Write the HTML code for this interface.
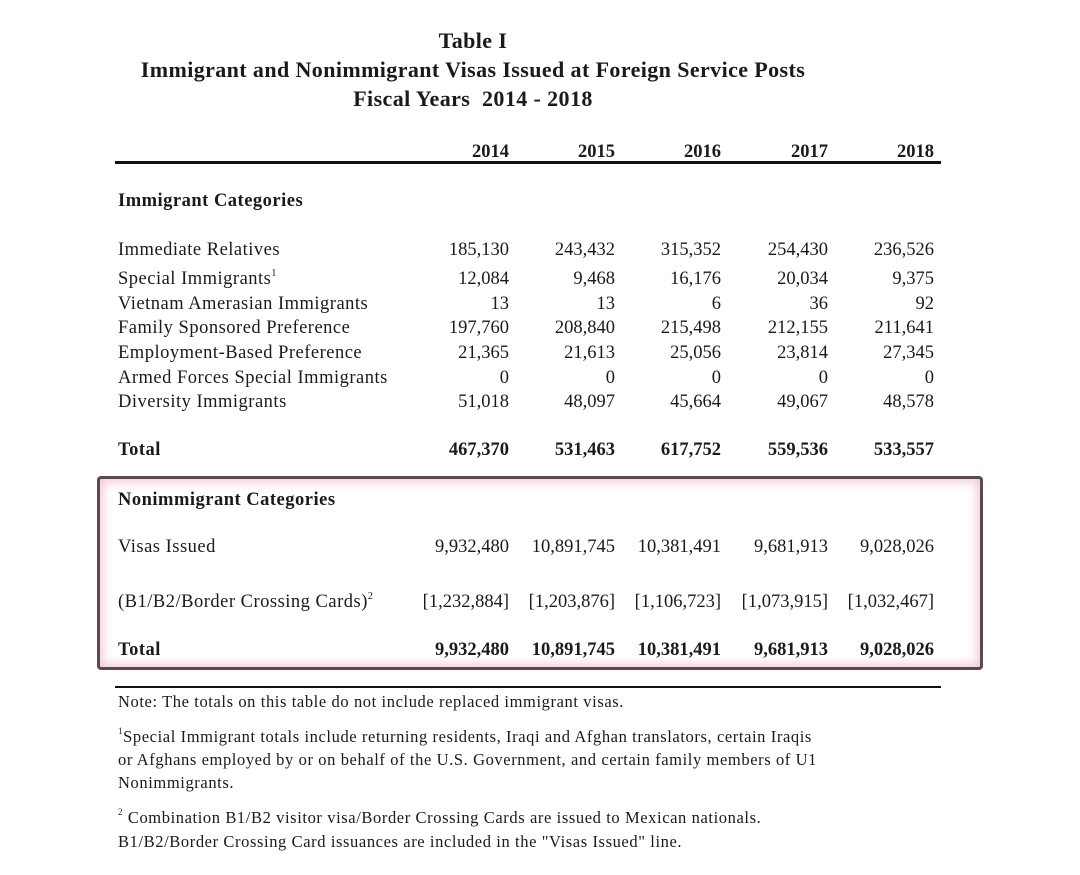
<!DOCTYPE html>
<html><head><style>
body{margin:0;width:1080px;height:875px;background:#fff;position:relative;overflow:hidden;font-family:"Liberation Serif",serif;color:#1a1a1a}
.t{position:absolute;white-space:nowrap;line-height:20px;font-size:18.5px}
.l{letter-spacing:0.5px}
.b{font-weight:bold}
.r{text-align:right;width:160px}
.c{text-align:center;width:800px;left:73px;font-weight:bold;font-size:22px;letter-spacing:0.4px}
.n{font-size:16.5px;letter-spacing:0.6px}
sup{line-height:0;font-size:10px;vertical-align:8px}
</style></head><body>
<div class="t c" style="top:31px">Table I</div>
<div class="t c" style="top:60px">Immigrant and Nonimmigrant Visas Issued at Foreign Service Posts</div>
<div class="t c" style="top:89px">Fiscal Years&nbsp; 2014 - 2018</div>
<div style="position:absolute;left:115px;top:161px;width:826px;height:3px;background:#111"></div>
<div style="position:absolute;left:97px;top:476px;width:880px;height:188px;border:3px solid #5a4a52;border-radius:4px;box-shadow:inset 0 0 10px 3px #f3c8dc"></div>
<div style="position:absolute;left:115px;top:686px;width:826px;height:2px;background:#111"></div>
<div id="g"></div>
<script>
const cols=[509,615,721,828,934];
let h='';
function row(y,label,vals,bold,sup){
 if(label)h+=`<div class="t l${bold?' b':''}" style="left:118px;top:${y-10}px">${label}${sup?'<sup>'+sup+'</sup>':''}</div>`;
 if(vals)vals.forEach((v,i)=>{h+=`<div class="t r${bold?' b':''}" style="left:${cols[i]-160}px;top:${y-10}px">${v}</div>`});
}
row(152,null,['2014','2015','2016','2017','2018'],true);
row(201,'Immigrant Categories',null,true);
row(250,'Immediate Relatives',['185,130','243,432','315,352','254,430','236,526']);
row(279,'Special Immigrants',['12,084','9,468','16,176','20,034','9,375'],false,'1');
row(304,'Vietnam Amerasian Immigrants',['13','13','6','36','92']);
row(328,'Family Sponsored Preference',['197,760','208,840','215,498','212,155','211,641']);
row(353,'Employment-Based Preference',['21,365','21,613','25,056','23,814','27,345']);
row(378,'Armed Forces Special Immigrants',['0','0','0','0','0']);
row(402,'Diversity Immigrants',['51,018','48,097','45,664','49,067','48,578']);
row(450,'Total',['467,370','531,463','617,752','559,536','533,557'],true);
row(500,'Nonimmigrant Categories',null,true);
row(547,'Visas Issued',['9,932,480','10,891,745','10,381,491','9,681,913','9,028,026']);
row(602,'(B1/B2/Border Crossing Cards)',['[1,232,884]','[1,203,876]','[1,106,723]','[1,073,915]','[1,032,467]'],false,'2');
row(650,'Total',['9,932,480','10,891,745','10,381,491','9,681,913','9,028,026'],true);
function note(y,t){h+=`<div class="t n" style="left:118px;top:${y-10}px">${t}</div>`}
note(702,'Note: The totals on this table do not include replaced immigrant visas.');
note(737,'<sup style="font-size:9px">1</sup>Special Immigrant totals include returning residents, Iraqi and Afghan translators, certain Iraqis');
note(760,'or Afghans employed by or on behalf of the U.S. Government, and certain family members of U1');
note(783,'Nonimmigrants.');
note(818,'<sup style="font-size:9px">2</sup> Combination B1/B2 visitor visa/Border Crossing Cards are issued to Mexican nationals.');
note(842,'B1/B2/Border Crossing Card issuances are included in the "Visas Issued" line.');
document.getElementById('g').innerHTML=h;
</script>
</body></html>
